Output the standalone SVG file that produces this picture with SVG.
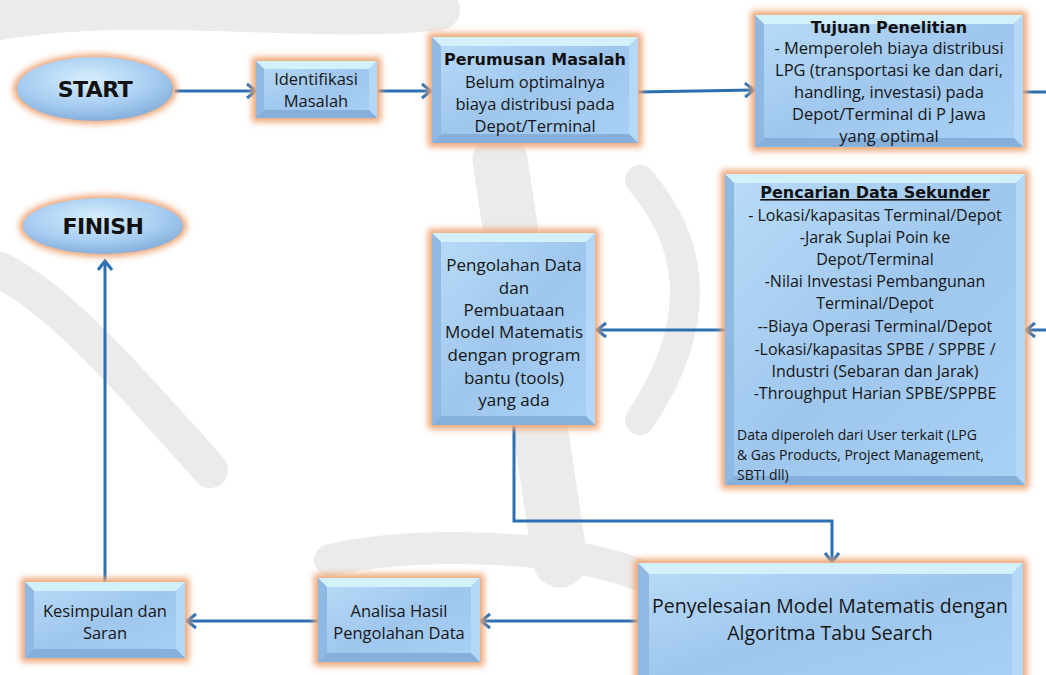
<svg xmlns="http://www.w3.org/2000/svg" width="1046" height="675" viewBox="0 0 1046 675">
<style>
.t{font-family:"Open Sans","Liberation Sans",sans-serif;font-size:16.5px;fill:#161616;text-anchor:middle}
.h{font-family:"DejaVu Sans","Liberation Sans",sans-serif;font-size:16px;font-weight:bold;fill:#111;text-anchor:middle}
.big{font-family:"DejaVu Sans","Liberation Sans",sans-serif;font-weight:900;font-size:22px;fill:#111;text-anchor:middle;letter-spacing:-0.5px}
.glow{fill:#eea576;filter:url(#blur)}
.face{fill:url(#faceG)}
.bt{fill:#d3f1fb}.bl{fill:#8fb9e2}.br{fill:#b4d8f7}.bb{fill:#86b0dc}
.wm{fill:none;stroke:#ebebeb;stroke-linecap:round}
.con{fill:none;stroke:#2a70b2;stroke-width:3}
</style>
<defs>
<filter id="blur" x="-20%" y="-20%" width="140%" height="140%"><feGaussianBlur stdDeviation="3"/></filter>
<linearGradient id="faceG" x1="0" y1="0" x2="1" y2="1"><stop offset="0" stop-color="#b9dcf8"/><stop offset="0.5" stop-color="#9fc7ee"/><stop offset="1" stop-color="#a9d0f5"/></linearGradient>
<radialGradient id="ellG" cx="0.45" cy="0.35" r="0.7"><stop offset="0" stop-color="#d6eefc"/><stop offset="0.6" stop-color="#a7cdf2"/><stop offset="1" stop-color="#7fa9d6"/></radialGradient>
<marker id="arr" markerUnits="userSpaceOnUse" markerWidth="18" markerHeight="18" refX="12" refY="9" orient="auto" viewBox="0 0 18 18">
<path d="M3,2 L12,9 L3,16" fill="none" stroke="#2a70b2" stroke-width="3"/>
</marker>
</defs>
<rect width="1046" height="675" fill="#ffffff"/>
<g id="watermark">
<path class="wm" stroke-width="40" d="M0,20 C150,-5 300,25 440,10"/>
<path class="wm" stroke-width="36" d="M0,270 C60,300 130,380 210,470"/>
<path class="wm" stroke-width="55" d="M500,160 C520,300 540,420 560,560"/>
<path class="wm" stroke-width="32" d="M330,560 C420,540 560,545 640,575"/>
<path class="wm" stroke-width="30" d="M640,180 C700,250 700,330 640,420"/>
</g>
<g id="connectors">
<line class="con" x1="175" y1="91" x2="256" y2="91" marker-end="url(#arr)"/>
<line class="con" x1="378" y1="91" x2="431" y2="91" marker-end="url(#arr)"/>
<line class="con" x1="638" y1="92" x2="754" y2="90" marker-end="url(#arr)"/>
<line class="con" x1="1023" y1="92" x2="1046" y2="92"/>
<line class="con" x1="1046" y1="330" x2="1026" y2="330" marker-end="url(#arr)"/>
<line class="con" x1="725" y1="330" x2="597" y2="330" marker-end="url(#arr)"/>
<polyline class="con" points="514,426 514,521 832,521 832,562" marker-end="url(#arr)"/>
<line class="con" x1="638" y1="621" x2="481" y2="621" marker-end="url(#arr)"/>
<line class="con" x1="318" y1="621" x2="187" y2="621" marker-end="url(#arr)"/>
<line class="con" x1="105" y1="582" x2="105" y2="261" marker-end="url(#arr)"/>
</g>
<g id="start">
<ellipse cx="95" cy="89" rx="82" ry="35" class="glow"/>
<ellipse cx="95" cy="89" rx="78" ry="32" fill="url(#ellG)"/>
<text class="big" x="95" y="97">START</text>
</g>
<g id="finish">
<ellipse cx="103" cy="226" rx="84" ry="31" class="glow"/>
<ellipse cx="103" cy="226" rx="80" ry="28" fill="url(#ellG)"/>
<text class="big" x="103" y="234">FINISH</text>
</g>
<g id="identifikasi">
<rect x="252" y="57" width="129" height="65" class="glow"/>
<rect x="256" y="61" width="121" height="57" class="face"/>
<polygon class="bt" points="256,61 377,61 369,69 264,69"/>
<polygon class="bl" points="256,61 264,69 264,110 256,118"/>
<polygon class="br" points="377,61 377,118 369,110 369,69"/>
<polygon class="bb" points="256,118 264,110 369,110 377,118"/>
<text class="t" x="316" y="85">Identifikasi</text>
<text class="t" x="316" y="107">Masalah</text>
</g>
<g id="perumusan">
<rect x="428" y="33" width="214" height="114" class="glow"/>
<rect x="432" y="37" width="206" height="106" class="face"/>
<polygon class="bt" points="432,37 638,37 629,46 441,46"/>
<polygon class="bl" points="432,37 441,46 441,134 432,143"/>
<polygon class="br" points="638,37 638,143 629,134 629,46"/>
<polygon class="bb" points="432,143 441,134 629,134 638,143"/>
<text class="h" x="535" y="65">Perumusan Masalah</text>
<text class="t" x="535" y="88">Belum  optimalnya</text>
<text class="t" x="535" y="110">biaya distribusi pada</text>
<text class="t" x="535" y="132">Depot/Terminal</text>
</g>
<g id="tujuan">
<rect x="751" y="11" width="276" height="140" class="glow"/>
<rect x="755" y="15" width="268" height="132" class="face"/>
<polygon class="bt" points="755,15 1023,15 1014,24 764,24"/>
<polygon class="bl" points="755,15 764,24 764,138 755,147"/>
<polygon class="br" points="1023,15 1023,147 1014,138 1014,24"/>
<polygon class="bb" points="755,147 764,138 1014,138 1023,147"/>
<text class="h" x="889" y="33">Tujuan Penelitian</text>
<text class="t" x="889" y="54">- Memperoleh biaya distribusi</text>
<text class="t" x="889" y="76">LPG (transportasi ke dan dari,</text>
<text class="t" x="889" y="98">handling, investasi) pada</text>
<text class="t" x="889" y="120">Depot/Terminal di P Jawa</text>
<text class="t" x="889" y="142">yang optimal</text>
</g>
<g id="pencarian">
<rect x="721" y="170" width="308" height="319" class="glow"/>
<rect x="725" y="174" width="300" height="311" class="face"/>
<polygon class="bt" points="725,174 1025,174 1016,183 734,183"/>
<polygon class="bl" points="725,174 734,183 734,476 725,485"/>
<polygon class="br" points="1025,174 1025,485 1016,476 1016,183"/>
<polygon class="bb" points="725,485 734,476 1016,476 1025,485"/>
<text class="h" x="875" y="198" text-decoration="underline">Pencarian Data Sekunder</text>
<text class="t" x="875" y="221" style="font-size:16px">- Lokasi/kapasitas Terminal/Depot</text>
<text class="t" x="875" y="243" style="font-size:16px">-Jarak Suplai Poin ke</text>
<text class="t" x="875" y="265" style="font-size:16px">Depot/Terminal</text>
<text class="t" x="875" y="287" style="font-size:16px">-Nilai Investasi Pembangunan</text>
<text class="t" x="875" y="309" style="font-size:16px">Terminal/Depot</text>
<text class="t" x="875" y="332" style="font-size:16px">--Biaya Operasi Terminal/Depot</text>
<text class="t" x="875" y="355" style="font-size:16px">-Lokasi/kapasitas SPBE /  SPPBE /</text>
<text class="t" x="875" y="377" style="font-size:16px">Industri (Sebaran dan Jarak)</text>
<text class="t" x="875" y="399" style="font-size:16px">-Throughput Harian SPBE/SPPBE</text>
<text class="t" x="737" y="440" style="text-anchor:start;font-size:14px">Data diperoleh dari User terkait  (LPG</text>
<text class="t" x="737" y="460" style="text-anchor:start;font-size:14px">&amp; Gas Products, Project Management,</text>
<text class="t" x="737" y="480" style="text-anchor:start;font-size:14px">SBTI dll)</text>
</g>
<g id="pengolahan">
<rect x="428" y="229" width="171" height="200" class="glow"/>
<rect x="432" y="233" width="163" height="192" class="face"/>
<polygon class="bt" points="432,233 595,233 586,242 441,242"/>
<polygon class="bl" points="432,233 441,242 441,416 432,425"/>
<polygon class="br" points="595,233 595,425 586,416 586,242"/>
<polygon class="bb" points="432,425 441,416 586,416 595,425"/>
<text class="t" x="514" y="271" style="font-size:17px">Pengolahan Data</text>
<text class="t" x="514" y="294" style="font-size:17px">dan</text>
<text class="t" x="514" y="316" style="font-size:17px">Pembuataan</text>
<text class="t" x="514" y="338" style="font-size:17px">Model Matematis</text>
<text class="t" x="514" y="361" style="font-size:17px">dengan program</text>
<text class="t" x="514" y="384" style="font-size:17px">bantu  (tools)</text>
<text class="t" x="514" y="406" style="font-size:17px">yang ada</text>
</g>
<g id="penyelesaian">
<rect x="634" y="559" width="393" height="130" class="glow"/>
<rect x="638" y="563" width="385" height="120" class="face"/>
<polygon class="bt" points="638,563 1023,563 1012,574 649,574"/>
<polygon class="bl" points="638,563 649,574 649,683 638,683"/>
<polygon class="br" points="1023,563 1023,683 1012,683 1012,574"/>
<text class="t" x="830" y="613" style="font-size:19.5px">Penyelesaian Model Matematis dengan</text>
<text class="t" x="830" y="640" style="font-size:19.5px">Algoritma Tabu Search</text>
</g>
<g id="analisa">
<rect x="314" y="574" width="170" height="92" class="glow"/>
<rect x="318" y="578" width="162" height="84" class="face"/>
<polygon class="bt" points="318,578 480,578 471,587 327,587"/>
<polygon class="bl" points="318,578 327,587 327,653 318,662"/>
<polygon class="br" points="480,578 480,662 471,653 471,587"/>
<polygon class="bb" points="318,662 327,653 471,653 480,662"/>
<text class="t" x="399" y="617">Analisa Hasil</text>
<text class="t" x="399" y="639">Pengolahan Data</text>
</g>
<g id="kesimpulan">
<rect x="21" y="578" width="168" height="84" class="glow"/>
<rect x="25" y="582" width="160" height="76" class="face"/>
<polygon class="bt" points="25,582 185,582 176,591 34,591"/>
<polygon class="bl" points="25,582 34,591 34,649 25,658"/>
<polygon class="br" points="185,582 185,658 176,649 176,591"/>
<polygon class="bb" points="25,658 34,649 176,649 185,658"/>
<text class="t" x="105" y="617">Kesimpulan dan</text>
<text class="t" x="105" y="639">Saran</text>
</g>
</svg>
